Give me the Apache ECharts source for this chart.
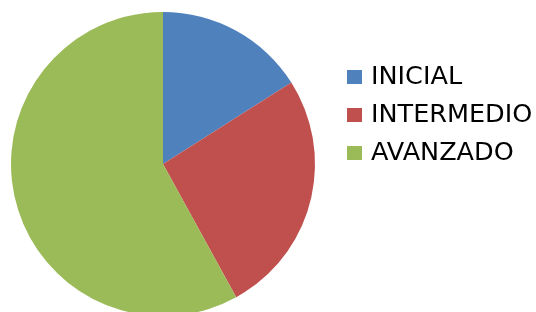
<!DOCTYPE html>
<html>
<head>
<meta charset="utf-8">
<script src="https://cdn.jsdelivr.net/npm/echarts@6/dist/echarts.min.js"></script>
<style>
  html, body { margin: 0; padding: 0; background: #fff; }
  #chart { width: 536px; height: 312px; }
</style>
</head>
<body>
<div id="chart"></div>
<script>
const categories = ['INICIAL', 'INTERMEDIO', 'AVANZADO']
const values = [16, 26, 58]
const colors = ['#4F81BD', '#C0504D', '#9BBB59']

const chart = echarts.init(document.getElementById('chart'))

chart.setOption({
  animation: false,
  color: colors,
  legend: {
    orient: 'vertical',
    left: 342,
    top: 59,
    icon: 'rect',
    itemWidth: 15,
    itemHeight: 14,
    itemGap: 12,
    data: categories,
    textStyle: {
      fontFamily: 'DejaVu Sans',
      fontSize: 25.5,
      color: '#000',
      lineHeight: 26,
      padding: [0, 0, 0, 4]
    }
  },
  series: [{
    type: 'pie',
    center: [163, 164],
    radius: 152,
    startAngle: 90,
    clockwise: true,
    label: { show: false },
    labelLine: { show: false },
    emphasis: { disabled: true },
    data: categories.map((name, i) => ({ name: name, value: values[i] }))
  }]
})
</script>
</body>
</html>
